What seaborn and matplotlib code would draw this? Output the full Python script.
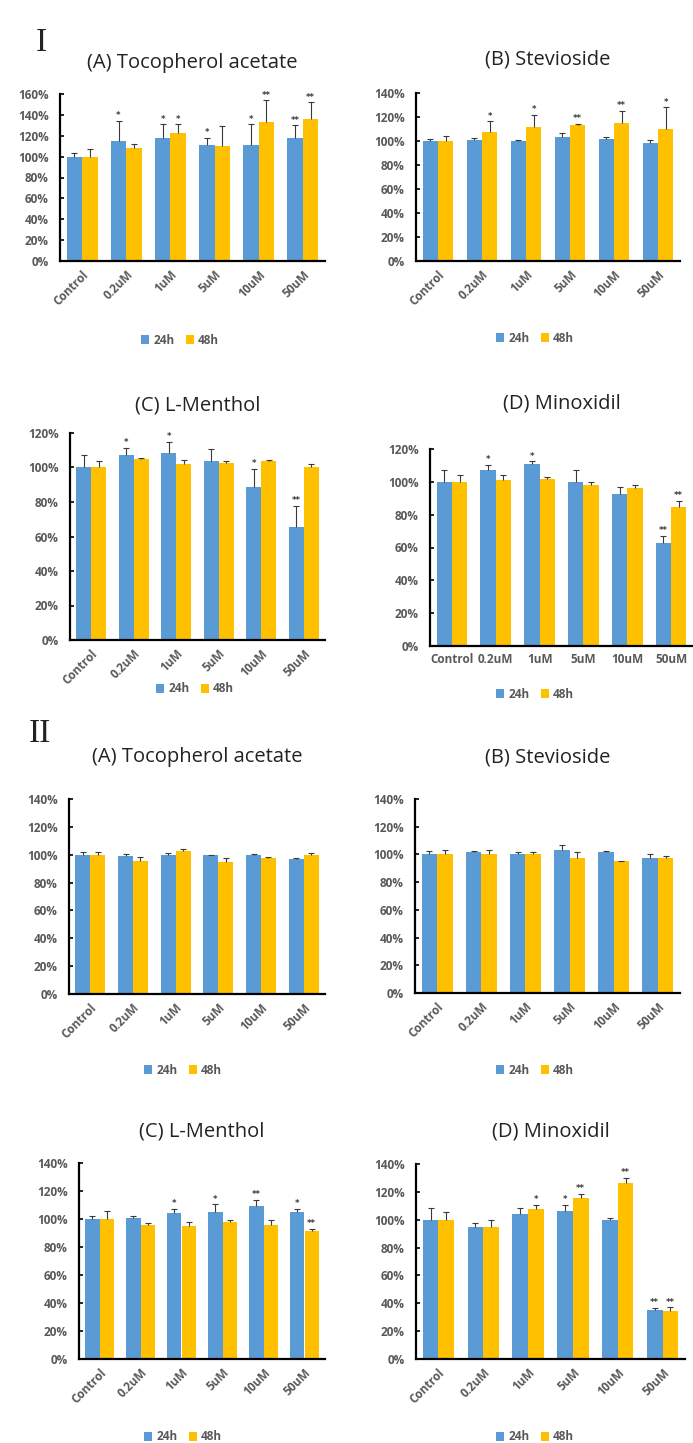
import numpy as np
import pandas as pd
import seaborn as sns
import matplotlib.pyplot as plt

CONCS = ["Control", "0.2uM", "1uM", "5uM", "10uM", "50uM"]
TIMES = ["24h", "48h"]
PALETTE = ["#5B9BD5", "#FFC000"]

# Study I (%), upper error, significance marks
I_A_24 = [100, 115, 118, 111, 111, 118]
I_A_24_ERR = [3, 19, 13, 7, 20, 12]
I_A_24_SIG = ["", "*", "*", "*", "*", "**"]
I_A_48 = [100, 108, 123, 110, 133, 136]
I_A_48_ERR = [7, 4, 8, 19, 21, 16]
I_A_48_SIG = ["", "", "*", "", "**", "**"]

I_B_24 = [100, 101, 100, 103, 102, 98]
I_B_24_ERR = [2, 1.5, 1, 3.5, 1.5, 3]
I_B_24_SIG = ["", "", "", "", "", ""]
I_B_48 = [100, 107.5, 112, 113, 115, 110]
I_B_48_ERR = [4.5, 9, 10, 1.5, 10, 18]
I_B_48_SIG = ["", "*", "*", "**", "**", "*"]

I_C_24 = [100, 107.5, 108.5, 104, 88.5, 65.5]
I_C_24_ERR = [7, 4, 6.5, 7, 10.5, 12]
I_C_24_SIG = ["", "*", "*", "", "*", "**"]
I_C_48 = [100, 105, 102, 102.5, 103.5, 100.5]
I_C_48_ERR = [4, 0.6, 2.5, 1, 0.6, 1.5]
I_C_48_SIG = ["", "", "", "", "", ""]

I_D_24 = [100, 107.5, 111, 100, 92.5, 63]
I_D_24_ERR = [7.5, 3, 1.5, 7.5, 4.5, 4]
I_D_24_SIG = ["", "*", "*", "", "", "**"]
I_D_48 = [100, 101, 101.5, 98, 96, 84.5]
I_D_48_ERR = [4, 3, 1.5, 2, 2, 4]
I_D_48_SIG = ["", "", "", "", "", "**"]

# Study II
II_A_24 = [100, 99, 99.5, 99.5, 100, 97]
II_A_24_ERR = [2, 1.5, 1.5, 0.5, 0.7, 0.7]
II_A_24_SIG = ["", "", "", "", "", ""]
II_A_48 = [100, 95.5, 102.5, 94.5, 97.5, 99.5]
II_A_48_ERR = [2, 3, 1.5, 3, 1, 1.5]
II_A_48_SIG = ["", "", "", "", "", ""]

II_B_24 = [100, 101.5, 100.5, 103, 102, 97.5]
II_B_24_ERR = [2.5, 1, 1.2, 3.5, 0.8, 3]
II_B_24_SIG = ["", "", "", "", "", ""]
II_B_48 = [100, 100.5, 100.5, 97.5, 95, 97.5]
II_B_48_ERR = [3, 3, 1.2, 4, 0.5, 1.2]
II_B_48_SIG = ["", "", "", "", "", ""]

II_C_24 = [100, 100.5, 104.5, 105, 109.5, 105]
II_C_24_ERR = [2, 2, 3, 5.5, 4, 2.5]
II_C_24_SIG = ["", "", "*", "*", "**", "*"]
II_C_48 = [100, 95.5, 95, 98, 96, 91.5]
II_C_48_ERR = [5.5, 2, 3, 1, 3.5, 1.5]
II_C_48_SIG = ["", "", "", "", "", "**"]

II_D_24 = [100, 95, 104, 106, 99.5, 35]
II_D_24_ERR = [8.5, 2.5, 4.5, 4.5, 2, 1.5]
II_D_24_SIG = ["", "", "", "*", "", "**"]
II_D_48 = [100, 95, 108, 115.5, 126.5, 34.5]
II_D_48_ERR = [5.5, 4.5, 2.5, 3, 3.5, 2.5]
II_D_48_SIG = ["", "", "*", "**", "**", "**"]

W, H = 693, 1443
TICK_COLOR = "#595959"
TICK_FONT = ['Open Sans', 'DejaVu Sans']
TICK_SIZE = 8.5

# layout in pixels: axes box (left, right, top, bottom), title y, legend centre
LAYOUT = {
    "I_A": dict(box=(60, 325, 94, 261), title_y=63, leg=(180, 340), ymax=160, rot=True),
    "I_B": dict(box=(416, 680, 93, 261), title_y=60, leg=(535, 338), ymax=140, rot=True),
    "I_C": dict(box=(70, 325, 433, 640), title_y=405, leg=(195, 689), ymax=120, rot=True),
    "I_D": dict(box=(430, 693, 449, 646), title_y=403, leg=(535, 694), ymax=120, rot=False),
    "II_A": dict(box=(69, 325, 799, 994), title_y=757, leg=(183, 1070), ymax=140, rot=True),
    "II_B": dict(box=(415, 680, 799, 993), title_y=757, leg=(535, 1070), ymax=140, rot=True),
    "II_C": dict(box=(79, 325, 1163, 1359), title_y=1132, leg=(183, 1437), ymax=140, rot=True),
    "II_D": dict(box=(416, 685, 1164, 1359), title_y=1132, leg=(535, 1437), ymax=140, rot=True),
}

PANELS = [
    ("I_A", "(A) Tocopherol acetate", I_A_24, I_A_24_ERR, I_A_24_SIG, I_A_48, I_A_48_ERR, I_A_48_SIG),
    ("I_B", "(B) Stevioside", I_B_24, I_B_24_ERR, I_B_24_SIG, I_B_48, I_B_48_ERR, I_B_48_SIG),
    ("I_C", "(C) L-Menthol", I_C_24, I_C_24_ERR, I_C_24_SIG, I_C_48, I_C_48_ERR, I_C_48_SIG),
    ("I_D", "(D) Minoxidil", I_D_24, I_D_24_ERR, I_D_24_SIG, I_D_48, I_D_48_ERR, I_D_48_SIG),
    ("II_A", "(A) Tocopherol acetate", II_A_24, II_A_24_ERR, II_A_24_SIG, II_A_48, II_A_48_ERR, II_A_48_SIG),
    ("II_B", "(B) Stevioside", II_B_24, II_B_24_ERR, II_B_24_SIG, II_B_48, II_B_48_ERR, II_B_48_SIG),
    ("II_C", "(C) L-Menthol", II_C_24, II_C_24_ERR, II_C_24_SIG, II_C_48, II_C_48_ERR, II_C_48_SIG),
    ("II_D", "(D) Minoxidil", II_D_24, II_D_24_ERR, II_D_24_SIG, II_D_48, II_D_48_ERR, II_D_48_SIG),
]

sns.set_style("white")
plt.rcParams['font.family'] = ['DejaVu Sans']


def plot_panel(fig, key, title, m24, e24, s24, m48, e48, s48):
    lay = LAYOUT[key]
    l, r, t, b = lay["box"]
    ax = fig.add_axes([l / W, 1 - b / H, (r - l) / W, (b - t) / H])

    df = pd.DataFrame({
        "conc": CONCS * 2,
        "time": [TIMES[0]] * len(CONCS) + [TIMES[1]] * len(CONCS),
        "value": list(m24) + list(m48),
    })
    sns.barplot(data=df, x="conc", y="value", hue="time", hue_order=TIMES,
                palette=PALETTE, saturation=1, width=0.7, gap=0,
                errorbar=None, linewidth=0, edgecolor='none', ax=ax)

    ymax = lay["ymax"]
    for cont, mean, err, sig in zip(ax.containers, [m24, m48], [e24, e48], [s24, s48]):
        xs = [p.get_x() + p.get_width() / 2 for p in cont]
        eb = ax.errorbar(xs, mean, yerr=[np.zeros(len(err)), err], fmt='none',
                         ecolor='#3a3a3a', elinewidth=0.8, capsize=2.5, capthick=0.8, zorder=3)
        eb.lines[1][0].set_visible(False)
        for x, m, e, s in zip(xs, mean, err, sig):
            if s:
                ax.text(x, m + e + ymax * 0.004, s, ha='center', va='bottom',
                        fontsize=6, color='#3a3a3a', fontweight='bold')

    ax.set_xlim(-0.5, len(CONCS) - 0.5)
    ax.set_ylim(0, ymax)
    ticks = np.arange(0, ymax + 1, 20)
    ax.set_yticks(ticks)
    ax.set_yticklabels([f"{v}%" for v in ticks], fontsize=TICK_SIZE, fontweight='bold',
                       color=TICK_COLOR, family=TICK_FONT)
    ax.set_xticks(range(len(CONCS)))
    if lay["rot"]:
        ax.set_xticklabels(CONCS, rotation=45, ha='right', rotation_mode='anchor',
                           fontsize=TICK_SIZE, fontweight='bold', color=TICK_COLOR,
                           family=TICK_FONT)
    else:
        ax.set_xticklabels(CONCS, fontsize=TICK_SIZE, fontweight='bold', color=TICK_COLOR,
                           family=TICK_FONT)
    ax.set_xlabel("")
    ax.set_ylabel("")
    ax.tick_params(axis='y', direction='in', length=3, width=1.2, color='black', left=True, pad=8)
    ax.tick_params(axis='x', length=0, pad=5)
    for side in ['top', 'right']:
        ax.spines[side].set_visible(False)
    for side in ['left', 'bottom']:
        ax.spines[side].set_color('black')
        ax.spines[side].set_linewidth(1.6)

    handles, labels = ax.get_legend_handles_labels()
    ax.get_legend().remove()
    cx, cy = lay["leg"]
    ax.legend(handles, labels, loc='center', bbox_to_anchor=(cx / W, 1 - cy / H),
              bbox_transform=fig.transFigure, ncol=2, frameon=False,
              handlelength=0.7, handleheight=0.7, handletextpad=0.3, columnspacing=1.0,
              prop=dict(weight='bold', size=TICK_SIZE, family=TICK_FONT), labelcolor=TICK_COLOR)

    fig.text((l + r) / 2 / W, 1 - lay["title_y"] / H, title, ha='center', va='center',
             fontsize=14.5, family=['Open Sans', 'DejaVu Sans'], color='#222222')


fig = plt.figure(figsize=(W / 100, H / 100), dpi=100)
fig.patch.set_facecolor('white')

for key, title, m24, e24, s24, m48, e48, s48 in PANELS:
    plot_panel(fig, key, title, m24, e24, s24, m48, e48, s48)

fig.text(41 / W, 1 - 43 / H, "I", ha='center', va='center', fontsize=24,
         family=['Liberation Serif', 'DejaVu Serif'], color='#222222')
fig.text(40 / W, 1 - 734 / H, "II", ha='center', va='center', fontsize=24,
         family=['Liberation Serif', 'DejaVu Serif'], color='#222222')

fig.savefig("out.png", dpi=100)
